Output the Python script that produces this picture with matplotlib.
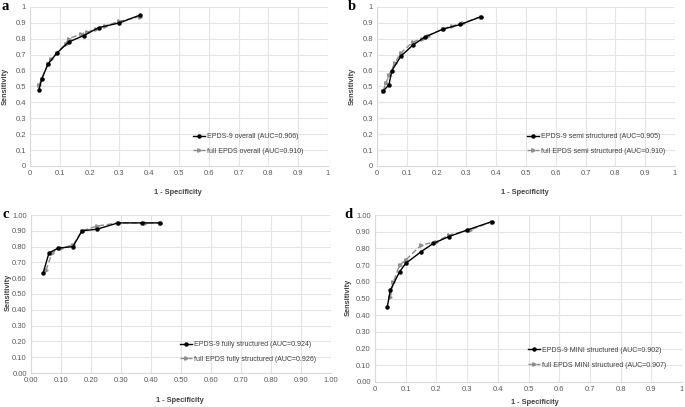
import matplotlib
matplotlib.use("Agg")
import matplotlib.pyplot as plt
from matplotlib.ticker import FuncFormatter

plt.rcParams['font.family'] = ['Liberation Sans', 'DejaVu Sans']

# Panel a
a9_x = [0.03, 0.04, 0.06, 0.09, 0.13, 0.18, 0.23, 0.30, 0.37]
a9_y = [0.48, 0.55, 0.64, 0.71, 0.78, 0.82, 0.87, 0.90, 0.95]
af_x = [0.03, 0.04, 0.06, 0.07, 0.09, 0.12, 0.13, 0.17, 0.19, 0.22, 0.25, 0.30, 0.37]
af_y = [0.51, 0.55, 0.64, 0.67, 0.71, 0.77, 0.80, 0.83, 0.84, 0.86, 0.88, 0.91, 0.94]
# Panel b
b9_x = [0.02, 0.04, 0.05, 0.08, 0.12, 0.16, 0.22, 0.28, 0.35]
b9_y = [0.47, 0.51, 0.60, 0.69, 0.76, 0.81, 0.86, 0.89, 0.94]
bf_x = [0.02, 0.03, 0.04, 0.06, 0.08, 0.12, 0.15, 0.17, 0.22, 0.25, 0.29, 0.35]
bf_y = [0.47, 0.52, 0.57, 0.65, 0.71, 0.78, 0.80, 0.82, 0.86, 0.88, 0.90, 0.94]
# Panel c
c9_x = [0.04, 0.06, 0.09, 0.14, 0.17, 0.22, 0.29, 0.37, 0.43]
c9_y = [0.63, 0.76, 0.79, 0.80, 0.90, 0.91, 0.95, 0.95, 0.95]
cf_x = [0.05, 0.07, 0.10, 0.14, 0.17, 0.22, 0.29, 0.38, 0.43]
cf_y = [0.65, 0.76, 0.79, 0.81, 0.90, 0.93, 0.95, 0.95, 0.95]
# Panel d
d9_x = [0.04, 0.05, 0.08, 0.10, 0.15, 0.19, 0.24, 0.30, 0.38]
d9_y = [0.45, 0.55, 0.66, 0.71, 0.78, 0.83, 0.87, 0.91, 0.96]
df_x = [0.05, 0.06, 0.08, 0.10, 0.15, 0.20, 0.24, 0.31, 0.38]
df_y = [0.51, 0.60, 0.70, 0.73, 0.82, 0.84, 0.88, 0.91, 0.96]

panel_labels = ["a", "b", "c", "d"]
labels_9 = ["EPDS-9 overall (AUC=0.906)", "EPDS-9 semi structured (AUC=0.905)",
            "EPDS-9 fully structured (AUC=0.924)", "EPDS-9 MINI structured (AUC=0.902)"]
labels_full = ["full EPDS overall (AUC=0.910)", "full EPDS semi structured (AUC=0.910)",
               "full EPDS fully structured (AUC=0.926)", "full EPDS MINI structured (AUC=0.907)"]
series_9 = [(a9_x, a9_y), (b9_x, b9_y), (c9_x, c9_y), (d9_x, d9_y)]
series_full = [(af_x, af_y), (bf_x, bf_y), (cf_x, cf_y), (df_x, df_y)]
x_formats = ["gen", "gen", "fix", "gen"]
y_formats = ["gen", "gen", "fix", "fix"]
ticks = [i / 10 for i in range(11)]

W, H = 685, 407
# axes boxes in pixels: left, top, right, bottom
boxes = [(30, 7, 328, 166), (377, 7, 675, 166), (31, 215, 331, 373), (375, 215, 682, 382)]
legend_anchor = [(0.547, 0.2075), (0.503, 0.2075), (0.497, 0.2025), (0.498, 0.21)]
panel_label_pos = [(5, 7), (352, 7), (6, 215), (348, 215)]
xlabel_pos = [(178, 192), (525, 192), (180, 400), (535, 402)]
ylabel_pos = [(5, 86), (352, 86), (8, 292), (348, 297)]


def gen_fmt(v, pos):
    s = "%.1f" % v
    if s.endswith(".0"):
        s = s[:-2]
    return s


def fix_fmt(v, pos):
    return "%.2f" % v


fig = plt.figure(figsize=(W / 100, H / 100), dpi=100)
for i in range(4):
    l, t, r, b = boxes[i]
    ax = fig.add_axes([l / W, 1 - b / H, (r - l) / W, (b - t) / H])
    ax.set_xlim(0, 1)
    ax.set_ylim(0, 1)
    ax.set_xticks(ticks)
    ax.set_yticks(ticks)
    ax.xaxis.set_major_formatter(FuncFormatter(gen_fmt if x_formats[i] == "gen" else fix_fmt))
    ax.yaxis.set_major_formatter(FuncFormatter(gen_fmt if y_formats[i] == "gen" else fix_fmt))
    ax.grid(True, color="#e3e3e3", linewidth=0.8)
    ax.set_axisbelow(True)
    for s in ["top", "right"]:
        ax.spines[s].set_visible(False)
    for s in ["left", "bottom"]:
        ax.spines[s].set_color("#d9d9d9")
        ax.spines[s].set_linewidth(0.8)
    ax.tick_params(length=0, labelsize=5.5, colors="#595959", pad=3)
    xf, yf = series_full[i]
    x9, y9 = series_9[i]
    hf, = ax.plot(xf, yf, linestyle=(0, (4, 2)), color="#8c8c8c", linewidth=1.0,
                  marker=">", markersize=2.5, markerfacecolor="#a6a6a6", markeredgecolor="#8c8c8c",
                  zorder=3)
    h9, = ax.plot(x9, y9, linestyle="-", color="black", linewidth=1.0,
                  marker="o", markersize=2.2, markerfacecolor="black", markeredgecolor="black",
                  zorder=4)
    leg = ax.legend([h9, hf], [labels_9[i], labels_full[i]], loc="upper left",
                    bbox_to_anchor=legend_anchor[i], frameon=False, fontsize=5,
                    labelspacing=1.1, handlelength=1.7, handletextpad=0.3,
                    borderaxespad=0, borderpad=0)
    for txt in leg.get_texts():
        txt.set_color("#404040")
    px, py = panel_label_pos[i]
    fig.text(px / W, 1 - py / H, panel_labels[i], fontsize=10.5, fontweight="bold",
             family=["Liberation Serif", "DejaVu Serif"], va="center", ha="center")
    px, py = xlabel_pos[i]
    fig.text(px / W, 1 - py / H, "1 - Specificity", fontsize=5.3, fontweight="bold",
             color="#404040", va="center", ha="center")
    px, py = ylabel_pos[i]
    fig.text(px / W, 1 - py / H, "Sensitivity", fontsize=5.3, fontweight="bold",
             color="#404040", va="center", ha="center", rotation=90)

fig.savefig("out.png", dpi=100, facecolor="white")
